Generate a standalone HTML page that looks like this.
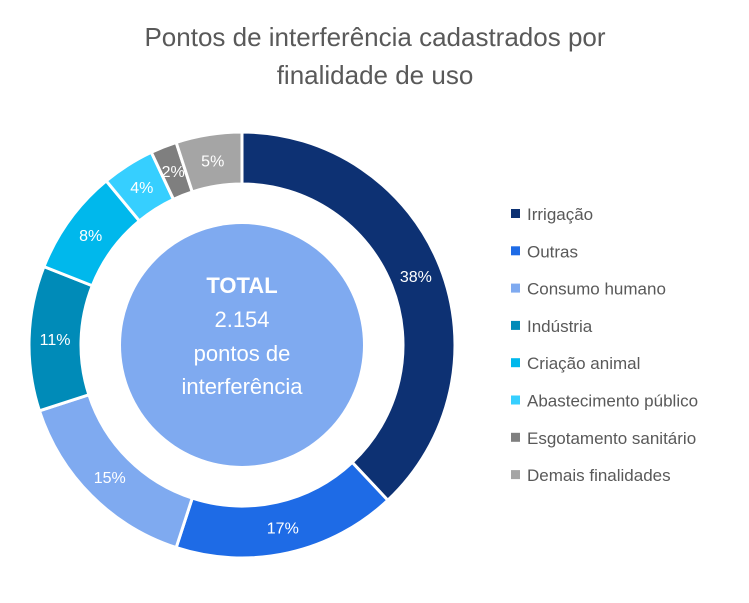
<!DOCTYPE html>
<html><head><meta charset="utf-8"><style>
body{margin:0;background:#fff;font-family:"Liberation Sans",sans-serif}
svg{display:block}
</style></head><body>
<svg width="749" height="603">
<text x="375" y="46" text-anchor="middle" font-size="26" fill="#595959">Pontos de interferência cadastrados por</text>
<text x="375" y="84" text-anchor="middle" font-size="26" fill="#595959">finalidade de uso</text>
<g id="slices"></g>
<circle cx="242" cy="345" r="121" fill="#7FAAF0"/>
<text x="242" y="293" text-anchor="middle" font-size="22" font-weight="bold" fill="#fff">TOTAL</text>
<text x="242" y="327" text-anchor="middle" font-size="22" fill="#fff">2.154</text>
<text x="242" y="361" text-anchor="middle" font-size="22" fill="#fff">pontos de</text>
<text x="242" y="394" text-anchor="middle" font-size="22" fill="#fff">interferência</text>
<g id="legend"></g>
</svg>
<script>
const categories=["Irrigação","Outras","Consumo humano","Indústria","Criação animal","Abastecimento público","Esgotamento sanitário","Demais finalidades"];
const values=[38,17,15,11,8,4,2,5];
const labels=["38%","17%","15%","11%","8%","4%","2%","5%"];
const colors=["#0D3173","#1E6BE6","#7FAAF0","#008BB8","#00B8EC","#36CFFF","#7F7F7F","#A5A5A5"];
const NS="http://www.w3.org/2000/svg",cx=242,cy=345,R=213,r=161;
const total=values.reduce((a,b)=>a+b,0);
const pt=(a,rad)=>[cx+rad*Math.sin(a),cy-rad*Math.cos(a)];
let acc=0;const g=document.getElementById('slices');
values.forEach((v,i)=>{
 const a0=acc/total*2*Math.PI;acc+=v;const a1=acc/total*2*Math.PI;
 const big=(a1-a0)>Math.PI?1:0;
 const [x0,y0]=pt(a0,R),[x1,y1]=pt(a1,R),[x2,y2]=pt(a1,r),[x3,y3]=pt(a0,r);
 const p=document.createElementNS(NS,'path');
 p.setAttribute('d',`M${x0},${y0}A${R},${R} 0 ${big} 1 ${x1},${y1}L${x2},${y2}A${r},${r} 0 ${big} 0 ${x3},${y3}Z`);
 p.setAttribute('fill',colors[i]);p.setAttribute('stroke','#fff');p.setAttribute('stroke-width','3');
 
 
 g.appendChild(p);
 const [lx,ly]=pt((a0+a1)/2,(R+r)/2);
 const t=document.createElementNS(NS,'text');
 t.setAttribute('x',lx);t.setAttribute('y',ly+6);t.setAttribute('text-anchor','middle');
 t.setAttribute('font-size','16');t.setAttribute('fill','#fff');t.textContent=labels[i];
 
 
 g.appendChild(t);
});
const lg=document.getElementById('legend');
categories.forEach((c,i)=>{
 const y=214+i*37.3;
 const s=document.createElementNS(NS,'rect');
 s.setAttribute('x',511);s.setAttribute('y',y-5);s.setAttribute('width',9);s.setAttribute('height',9);s.setAttribute('fill',colors[i]);
 
 
 lg.appendChild(s);
 const t=document.createElementNS(NS,'text');
 t.setAttribute('x',527);t.setAttribute('y',y+6);t.setAttribute('font-size','17');t.setAttribute('fill','#595959');t.textContent=c;
 
 
 lg.appendChild(t);
});
</script>
</body></html>
